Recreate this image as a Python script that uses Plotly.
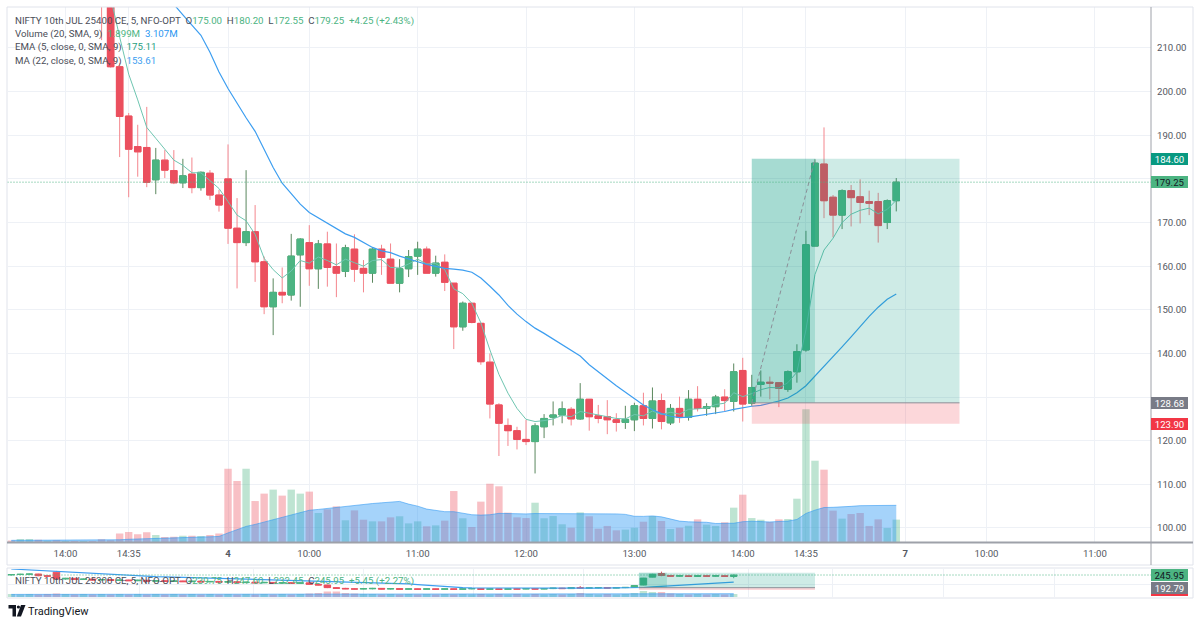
import plotly.graph_objects as go

# ---------------- data ----------------
# 5-minute bars, index 0 = 4 Jul 09:15 (negative = 3 Jul afternoon)
bar_index = list(range(-24, 75))

opens = [236, 234, 236, 237, 234, 235, 232, 233, 232, 233, 231, 224,
         205.7, 194.4, 187.4, 187.2, 179.8, 184.3, 181.9, 179.1, 181.1, 178.0, 181.3, 176.3,
         180.0, 168.7, 165.4, 167.9, 161.0, 150.7, 154.0, 153.4, 162.6, 165.4,
         159.4, 165.1, 159.9, 158.8, 163.9, 159.5, 158.4, 163.9, 161.6, 156.1,
         159.4, 162.3, 163.9, 158.4, 160.9, 156.1, 146.1, 151.5, 146.9, 138.0,
         128.2, 123.5, 122.3, 120.3, 119.8, 123.2, 125.4, 125.9, 127.2, 125.0,
         129.5, 125.7, 125.5, 124.8, 124.2, 124.8, 128.0, 125.1, 129.2, 124.1,
         127.4, 125.4, 129.5, 127.4, 127.8, 130.0, 129.0, 136.1, 128.6, 132.9,
         133.4, 133.3, 131.8, 135.8, 140.8, 164.6, 183.4, 175.8, 171.7, 177.3,
         175.9, 174.8, 174.8, 170.0, 175.00]
highs = [238, 237, 238, 238, 236, 236, 234, 234, 234, 234, 232, 225,
         206.6, 195.1, 192.4, 196.5, 187.1, 186.6, 186.6, 184.6, 184.9, 181.7, 182.0, 177.5,
         187.9, 175.6, 182.0, 174.0, 162.2, 157.2, 159.7, 167.4, 166.4, 169.4,
         166.0, 167.9, 165.2, 164.9, 167.3, 161.4, 164.1, 164.9, 165.2, 161.6,
         163.7, 165.6, 164.5, 162.4, 162.7, 156.1, 151.9, 151.5, 146.9, 140.0,
         128.6, 125.1, 123.2, 124.8, 124.0, 126.1, 129.0, 129.0, 127.7, 133.2,
         129.5, 128.2, 129.3, 126.3, 128.0, 128.7, 131.0, 132.2, 130.8, 128.4,
         130.1, 131.6, 132.5, 128.6, 130.5, 131.8, 137.7, 139.0, 135.1, 136.1,
         134.7, 133.3, 136.1, 142.1, 168.1, 184.5, 191.8, 176.3, 177.6, 178.6,
         179.9, 177.3, 176.8, 175.3, 180.20]
lows = [233, 233, 234, 233, 233, 231, 231, 231, 231, 230, 211.8, 205.5,
        185.0, 175.8, 180.5, 178.1, 176.5, 180.2, 178.8, 177.9, 176.7, 177.3, 175.2, 172.5,
        165.1, 154.9, 164.6, 156.4, 149.0, 144.2, 151.5, 152.1, 150.7, 155.5,
        154.8, 155.3, 152.9, 157.5, 156.4, 154.0, 156.2, 158.0, 156.1, 154.0,
        157.5, 158.0, 158.4, 157.6, 154.3, 141.0, 145.2, 146.9, 137.4, 125.1,
        116.5, 118.8, 118.0, 119.0, 112.5, 120.6, 123.5, 124.0, 123.5, 124.8,
        122.3, 124.0, 121.5, 122.1, 122.7, 122.2, 123.5, 122.8, 122.6, 123.6,
        124.1, 124.6, 126.7, 125.7, 126.1, 126.7, 126.7, 124.4, 128.0, 130.1,
        129.5, 127.7, 131.2, 133.3, 140.4, 164.6, 171.0, 166.6, 168.5, 169.1,
        169.8, 171.7, 165.4, 168.5, 172.55]
closes = [234, 236, 237, 234, 235, 232, 233, 232, 233, 231, 224, 205.7,
          194.3, 186.8, 186.2, 179.2, 184.3, 182.0, 179.1, 180.7, 178.0, 181.5, 176.3, 174.0,
          168.7, 165.4, 167.9, 161.0, 150.7, 154.0, 153.4, 162.3, 166.2, 159.4,
          165.1, 159.7, 158.4, 164.2, 159.3, 158.4, 163.9, 162.0, 156.1, 159.4,
          162.2, 163.9, 158.4, 160.7, 156.3, 146.1, 151.5, 147.1, 138.1, 128.4,
          124.0, 122.3, 120.3, 119.8, 123.4, 125.1, 125.9, 127.3, 125.0, 129.5,
          125.5, 125.1, 124.8, 124.2, 124.9, 128.0, 125.1, 129.1, 124.4, 127.4,
          125.4, 129.5, 127.4, 127.8, 130.0, 129.2, 135.8, 128.4, 132.2, 133.4,
          133.2, 132.0, 135.8, 140.4, 164.9, 183.6, 175.0, 171.7, 177.3, 175.7,
          174.6, 174.4, 169.3, 175.0, 179.25]
volumes = [0.12, 0.25, 0.25, 0.20, 0.11, 0.14, 0.08, 0.08, 0.08, 0.08, 0.23, 0.14,
           0.71, 0.85, 0.65, 0.82, 0.59, 0.42, 0.45, 0.54, 0.54, 0.51, 0.59, 0.71,
           6.21, 5.17, 6.21, 3.47, 4.10, 4.44, 3.93, 4.44, 4.10, 4.27,
           2.46, 2.77, 3.02, 1.84, 2.68, 1.89, 1.75, 1.75, 2.09, 2.18,
           1.58, 1.75, 1.33, 1.41, 1.81, 4.32, 2.01, 1.27, 3.42, 4.94,
           4.72, 2.49, 2.09, 2.03, 3.33, 2.01, 2.20, 1.50, 1.21, 2.51,
           2.18, 1.13, 1.36, 0.99, 1.05, 1.21, 1.72, 2.20, 1.78, 1.10,
           1.21, 1.38, 1.92, 1.47, 1.36, 1.67, 2.91, 4.01, 2.03, 1.89,
           1.69, 1.92, 1.95, 3.67, 11.24, 6.89, 6.13, 2.66, 1.98, 2.37,
           2.46, 1.36, 1.92, 1.19, 1.899]
vol_ma = [0.14, 0.14, 0.15, 0.15, 0.15, 0.15, 0.15, 0.15, 0.15, 0.15, 0.16, 0.16,
          0.19, 0.23, 0.26, 0.30, 0.32, 0.34, 0.36, 0.38, 0.40, 0.42, 0.44, 0.47,
          0.77, 1.02, 1.32, 1.49, 1.69, 1.90, 2.09, 2.30, 2.49, 2.69,
          2.76, 2.85, 2.95, 3.02, 3.12, 3.20, 3.26, 3.32, 3.39, 3.44,
          3.21, 3.04, 2.79, 2.69, 2.57, 2.57, 2.47, 2.31, 2.28, 2.31,
          2.43, 2.41, 2.37, 2.38, 2.41, 2.41, 2.44, 2.42, 2.38, 2.40,
          2.43, 2.40, 2.40, 2.38, 2.34, 2.18, 2.17, 2.21, 2.13, 1.94,
          1.77, 1.71, 1.70, 1.67, 1.57, 1.56, 1.59, 1.72, 1.76, 1.73,
          1.70, 1.74, 1.77, 1.91, 2.42, 2.70, 2.92, 2.94, 2.95, 3.02,
          3.08, 3.08, 3.08, 3.07, 3.107]
ema5 = [236.0, 235.6, 235.8, 235.2, 235.1, 234.1, 233.7, 233.1, 233.1, 232.4, 229.6, 221.6,
        212.5, 204.0, 198.1, 191.8, 189.3, 186.9, 184.3, 183.1, 181.4, 181.4, 179.7, 177.8,
        174.8, 171.7, 170.4, 167.3, 161.8, 159.2, 157.3, 158.9, 161.3, 160.7,
        162.1, 161.3, 160.3, 161.6, 160.8, 160.0, 161.3, 161.5, 159.7, 159.6,
        160.5, 161.6, 160.5, 160.6, 159.2, 154.8, 153.7, 151.5, 147.0, 140.8,
        135.2, 130.9, 127.4, 124.9, 124.4, 124.6, 125.0, 125.8, 125.5, 126.7,
        126.3, 125.9, 125.5, 125.1, 125.0, 126.0, 125.7, 126.8, 126.0, 126.5,
        126.1, 127.2, 127.3, 127.5, 128.3, 128.6, 131.0, 130.1, 130.8, 131.7,
        132.2, 132.1, 133.3, 135.7, 145.4, 158.1, 163.7, 166.4, 170.0, 171.9,
        172.8, 173.3, 172.0, 173.0, 175.11]
ma22 = [246.0, 245.0, 244.0, 243.0, 242.0, 240.5, 239.0, 237.5, 236.0, 234.5, 233.0, 231.5,
        229.5, 227.5, 225.5, 223.5, 222.0, 221.0, 220.0, 217.6, 215.3, 212.9, 209.0, 204.5,
        200.7, 197.3, 194.0, 190.9, 186.8, 182.6, 179.0, 176.5, 174.2, 172.3,
        171.1, 169.8, 168.5, 167.4, 166.6, 165.4, 164.3, 163.5, 163.1, 162.3,
        161.6, 161.0, 160.4, 159.9, 159.5, 159.3, 159.1, 158.6, 157.3, 155.4,
        153.4, 151.0, 149.0, 147.3, 145.8, 144.6, 143.3, 142.0, 140.7, 139.4,
        137.4, 135.7, 134.2, 132.6, 131.2, 129.7, 128.2, 127.1, 126.2, 125.6,
        125.3, 125.4, 125.7, 126.1, 126.4, 126.7, 127.2, 127.6, 127.9, 128.1,
        128.6, 129.1, 129.8, 131.0, 132.6, 134.8, 136.9, 139.2, 141.5, 143.8,
        146.2, 148.5, 150.6, 152.4, 153.61]

tick_index = [-18, -11, 0, 9, 21, 33, 45, 57, 64, 75, 84, 96]
tick_labels = ['14:00', '14:35', '<b>4</b>', '10:00', '11:00', '12:00', '13:00',
               '14:00', '14:35', '<b>7</b>', '10:00', '11:00']
price_ticks = [100, 110, 120, 130, 140, 150, 160, 170, 180, 190, 200, 210]
# tick labels hidden behind the price-scale labels in the reference
hidden_ticks = [130, 180]

# long position drawing
pos_start, pos_hit, pos_end = 58, 65, 81
entry_price, target_price, stop_price = 128.68, 184.60, 123.90

# ---------------- lower mini chart (NIFTY 10th JUL 25300 CE) ----------------
mini_index = list(range(-24, 57))
mini_open = [246, 248, 249, 250, 243, 258, 229, 232, 227, 229, 225, 227,
             223, 225, 222, 224, 220, 222, 219, 221, 218, 220, 217, 219,
             216, 218, 214, 216, 213, 215, 212, 214, 211, 213,
             207, 204, 193, 190, 188, 187, 188, 190, 187, 189,
             186, 188, 186, 188, 186, 188, 186, 188, 189, 186,
             188, 186, 188, 187, 189, 187, 189, 191, 189, 193,
             191, 192, 193, 191, 193, 194, 204, 237, 252, 244,
             241, 243, 240, 243, 241, 243, 239.75]
mini_high = [250, 251, 252, 251, 246, 263, 234, 233, 231, 230, 229, 228,
             227, 226, 226, 225, 224, 223, 223, 222, 222, 221, 221, 220,
             220, 219, 218, 217, 217, 216, 216, 215, 215, 216,
             209, 205, 195, 192, 190, 190, 192, 191, 190, 190,
             189, 189, 189, 189, 189, 189, 189, 190, 190, 189,
             189, 189, 190, 190, 190, 190, 192, 192, 194, 200,
             193, 194, 194, 194, 195, 204, 234, 251, 260, 246,
             245, 244, 244, 245, 244, 244, 247.60]
mini_low = [244, 245, 246, 241, 239, 226, 226, 226, 225, 224, 223, 222,
            222, 221, 220, 219, 219, 218, 217, 217, 216, 216, 215, 215,
            214, 213, 213, 212, 212, 211, 211, 210, 210, 205,
            203, 191, 189, 187, 186, 186, 186, 186, 185, 185,
            185, 185, 185, 185, 185, 184, 185, 186, 185, 185,
            185, 185, 186, 186, 186, 186, 187, 188, 188, 189,
            189, 190, 190, 190, 191, 193, 203, 236, 241, 240,
            239, 239, 239, 240, 239, 240, 232.45]
mini_close = [248, 249, 250, 243, 241, 229, 232, 227, 229, 225, 227, 223,
              225, 222, 224, 220, 222, 219, 221, 218, 220, 217, 219, 216,
              218, 214, 216, 213, 215, 212, 214, 211, 213, 207,
              204, 193, 190, 188, 187, 189, 190, 187, 189, 186,
              188, 186, 188, 186, 188, 186, 188, 189, 186, 188,
              186, 188, 187, 189, 187, 189, 191, 189, 193, 191,
              192, 193, 191, 193, 194, 202, 233, 249, 244, 241,
              243, 240, 243, 241, 243, 240.50, 245.95]
mini_ma = [271.0, 268.9, 266.8, 264.7, 262.6, 260.5, 258.4, 256.3, 254.2, 252.1, 250.0, 247.9,
           245.8, 243.7, 241.5, 240.5, 239.5, 238.5, 237.5, 236.5, 235.5, 234.5, 233.5, 232.5,
           231.5, 230.5, 229.5, 228.5, 227.5, 226.5, 225.5, 224.5, 223.5, 222.5,
           221.4, 220.3, 219.2, 218.1, 217.0, 215.9, 214.8, 213.7, 212.9, 212.1,
           209.0, 206.0, 203.0, 200.0, 197.5, 195.0, 193.0, 191.8, 191.5, 191.3,
           191.2, 191.1, 191.0, 191.0, 191.0, 191.0, 191.0, 191.0, 191.0, 191.0,
           191.0, 191.0, 191.0, 191.0, 191.0, 191.5, 193.5, 196.0, 198.5, 201.0,
           203.5, 206.0, 208.5, 211.0, 213.0, 215.0, 216.5]
mini_vol = [3, 2.5, 3, 2.5, 3, 3.5, 3, 2.5, 3, 2.5, 3, 2.5,
            3, 2.5, 3, 2.5, 3, 2.5, 3, 2.5, 3, 2.5, 3, 2.5,
            3, 2.5, 3, 2.5, 3, 2.5, 3, 2.5, 3, 3.5,
            4, 5.5, 5.5, 4, 3.5, 3, 3, 2.5, 3, 2.5,
            3, 2.5, 3, 2.5, 3, 2.5, 3, 2.5, 3, 2.5,
            3, 2.5, 3, 2.5, 3, 2.5, 3, 2.5, 3, 4,
            3, 2.5, 3, 2.5, 3, 4, 6, 5, 5, 3.5,
            3, 2.5, 3, 2.5, 3, 2.5, 3]
mini_vol_ma = [2.6, 2.6, 2.6, 2.6, 2.6, 2.6, 2.6, 2.6, 2.6, 2.6, 2.6, 2.6,
               2.6, 2.6, 2.6, 2.6, 2.6, 2.6, 2.6, 2.6, 2.6, 2.6, 2.6, 2.6,
               2.6, 2.6, 2.6, 2.6, 2.6, 2.6, 2.6, 2.6, 2.7, 2.7,
               2.8, 2.9, 3.0, 3.0, 3.0, 3.0, 3.0, 2.9, 2.9, 2.9,
               2.8, 2.8, 2.8, 2.7, 2.7, 2.7, 2.7, 2.7, 2.7, 2.7,
               2.7, 2.7, 2.7, 2.7, 2.7, 2.7, 2.7, 2.7, 2.7, 2.8,
               2.8, 2.8, 2.8, 2.8, 2.8, 2.9, 3.1, 3.2, 3.3, 3.3,
               3.3, 3.3, 3.3, 3.3, 3.3, 3.3, 3.3]
mini_grid_index = [-9.75, 2.77, 14.95, 27.13, 39.31, 57.59, 66.89, 79.18, 91.47]
mini_pos_start, mini_pos_hit, mini_pos_end = 45.5, 48.6, 65.0
mini_entry, mini_target, mini_stop = 192.79, 255.6, 182.9

# ---------------- styling ----------------
W, H = 1200, 625
def fx(p):
    return p / W
def fy(p):
    return 1 - p / H

UP, DOWN = '#4cb482', '#eb4f5e'
UP_WICK, DOWN_WICK = '#5a875d', '#f4868d'
GRID = '#eef1f6'
AXIS_TXT = '#55585f'
LEG_TXT = '#4a4d57'
FONT = 'Roboto, sans-serif'
X_RANGE = [-24.42, 102.21]

fig = go.Figure()

# main candles: wick layer, then body layer on top
fig.add_trace(go.Candlestick(
    x=bar_index, open=opens, high=highs, low=lows, close=closes,
    increasing=dict(line=dict(color=UP_WICK, width=1), fillcolor=UP),
    decreasing=dict(line=dict(color=DOWN_WICK, width=1), fillcolor=DOWN),
    whiskerwidth=0, hoverinfo='skip', showlegend=False, xaxis='x', yaxis='y'))
body_hi = [max(o, c) for o, c in zip(opens, closes)]
body_lo = [min(o, c) for o, c in zip(opens, closes)]
fig.add_trace(go.Candlestick(
    x=bar_index, open=opens, high=body_hi, low=body_lo, close=closes,
    increasing=dict(line=dict(color=UP, width=1), fillcolor=UP),
    decreasing=dict(line=dict(color=DOWN, width=1), fillcolor=DOWN),
    whiskerwidth=0, hoverinfo='skip', showlegend=False, xaxis='x', yaxis='y'))
fig.add_trace(go.Scatter(x=bar_index, y=ema5, mode='lines',
                         line=dict(color='#6ec5b0', width=1), hoverinfo='skip',
                         showlegend=False, xaxis='x', yaxis='y'))
fig.add_trace(go.Scatter(x=bar_index, y=ma22, mode='lines',
                         line=dict(color='#3d9ef0', width=1.2), hoverinfo='skip',
                         showlegend=False, xaxis='x', yaxis='y'))

# volume (overlay axis)
vol_colors = ['rgba(76,180,130,0.36)' if c > o else 'rgba(235,79,94,0.36)'
              for o, c in zip(opens, closes)]
fig.add_trace(go.Bar(x=bar_index, y=volumes, width=0.82, marker=dict(color=vol_colors, line=dict(width=0)),
                     hoverinfo='skip', showlegend=False, xaxis='x', yaxis='y2'))
fig.add_trace(go.Scatter(x=bar_index, y=vol_ma, mode='lines', fill='tozeroy',
                         fillcolor='rgba(41,150,243,0.42)', line=dict(color='rgba(41,150,243,0.55)', width=1),
                         hoverinfo='skip', showlegend=False, xaxis='x', yaxis='y2'))

# mini chart
mini_vol_colors = ['rgba(76,180,130,0.36)' if c > o else 'rgba(235,79,94,0.36)'
                   for o, c in zip(mini_open, mini_close)]
fig.add_trace(go.Bar(x=mini_index, y=mini_vol, width=0.82, marker=dict(color=mini_vol_colors, line=dict(width=0)),
                     hoverinfo='skip', showlegend=False, xaxis='x2', yaxis='y4'))
fig.add_trace(go.Scatter(x=mini_index, y=mini_vol_ma, mode='lines', fill='tozeroy',
                         fillcolor='rgba(41,150,243,0.42)', line=dict(color='rgba(41,150,243,0.55)', width=1),
                         hoverinfo='skip', showlegend=False, xaxis='x2', yaxis='y4'))
fig.add_trace(go.Candlestick(
    x=mini_index, open=mini_open, high=mini_high, low=mini_low, close=mini_close,
    increasing=dict(line=dict(color=UP, width=1), fillcolor=UP),
    decreasing=dict(line=dict(color=DOWN, width=1), fillcolor=DOWN),
    whiskerwidth=0, hoverinfo='skip', showlegend=False, xaxis='x2', yaxis='y3'))
fig.add_trace(go.Scatter(x=mini_index, y=mini_ma, mode='lines',
                         line=dict(color='#3d9ef0', width=1.2), hoverinfo='skip',
                         showlegend=False, xaxis='x2', yaxis='y3'))

# ---------------- shapes ----------------
DOT = '1px,2px'
shapes = []
# position tool (main)
shapes += [
    dict(type='rect', xref='x', yref='y', x0=pos_start, x1=pos_end, y0=entry_price, y1=target_price,
         fillcolor='rgba(8,153,129,0.2)', line=dict(width=0), layer='above'),
    dict(type='rect', xref='x', yref='y', x0=pos_start, x1=pos_hit, y0=entry_price, y1=target_price,
         fillcolor='rgba(8,153,129,0.2)', line=dict(width=0), layer='above'),
    dict(type='rect', xref='x', yref='y', x0=pos_start, x1=pos_end, y0=stop_price, y1=entry_price,
         fillcolor='rgba(242,54,69,0.2)', line=dict(width=0), layer='above'),
    dict(type='line', xref='x', yref='y', x0=pos_start, x1=pos_end, y0=entry_price, y1=entry_price,
         line=dict(color='#8b8e97', width=1), layer='above'),
    dict(type='line', xref='x', yref='y', x0=pos_start, x1=pos_hit, y0=entry_price, y1=target_price,
         line=dict(color='#8b8e97', width=1, dash='4px,3px'), layer='above'),
]
# last price dotted lines
shapes.append(dict(type='line', xref='paper', yref='y', x0=fx(7.5), x1=fx(1151),
                   y0=closes[-1], y1=closes[-1], line=dict(color=UP, width=1, dash=DOT), layer='above'))
shapes.append(dict(type='line', xref='paper', yref='y3', x0=fx(7.5), x1=fx(1151),
                   y0=mini_close[-1], y1=mini_close[-1], line=dict(color=UP, width=1, dash=DOT), layer='above'))
# mini position tool
shapes += [
    dict(type='rect', xref='x2', yref='y3', x0=mini_pos_start, x1=mini_pos_end, y0=mini_entry, y1=mini_target,
         fillcolor='rgba(8,153,129,0.2)', line=dict(width=0), layer='above'),
    dict(type='rect', xref='x2', yref='y3', x0=mini_pos_start, x1=mini_pos_hit, y0=mini_entry, y1=mini_target,
         fillcolor='rgba(8,153,129,0.2)', line=dict(width=0), layer='above'),
    dict(type='rect', xref='x2', yref='y3', x0=mini_pos_start, x1=mini_pos_end, y0=mini_stop, y1=mini_entry,
         fillcolor='rgba(242,54,69,0.2)', line=dict(width=0), layer='above'),
    dict(type='line', xref='x2', yref='y3', x0=mini_pos_start, x1=mini_pos_end, y0=mini_entry, y1=mini_entry,
         line=dict(color='#8b8e97', width=1), layer='above'),
]
# frames / separators
FRAME = '#e0e3eb'
SEP = '#9ea1a9'
shapes += [
    dict(type='rect', xref='paper', yref='paper', x0=fx(7), x1=fx(1193), y0=fy(565), y1=fy(7),
         line=dict(color=FRAME, width=1), layer='above'),
    dict(type='rect', xref='paper', yref='paper', x0=fx(7), x1=fx(1193), y0=fy(598), y1=fy(568),
         line=dict(color=FRAME, width=1), layer='above'),
    dict(type='line', xref='paper', yref='paper', x0=fx(7), x1=fx(1193), y0=fy(542.5), y1=fy(542.5),
         line=dict(color=SEP, width=2), layer='above'),
    dict(type='line', xref='paper', yref='paper', x0=fx(1151), x1=fx(1151), y0=fy(565), y1=fy(7),
         line=dict(color=SEP, width=1), layer='above'),
    dict(type='rect', xref='paper', yref='paper', x0=fx(1151), x1=fx(1188), y0=fy(596), y1=fy(593.5),
         fillcolor='#f23645', line=dict(width=0), layer='above'),
]
# TradingView logo mark
LOGO = '#131722'
shapes += [
    dict(type='rect', xref='paper', yref='paper', x0=fx(8.5), x1=fx(16), y0=fy(608.5), y1=fy(605),
         fillcolor=LOGO, line=dict(width=0), layer='above'),
    dict(type='rect', xref='paper', yref='paper', x0=fx(12.5), x1=fx(16), y0=fy(616.5), y1=fy(605),
         fillcolor=LOGO, line=dict(width=0), layer='above'),
    dict(type='circle', xref='paper', yref='paper', x0=fx(16.8), x1=fx(20), y0=fy(608.6), y1=fy(605.4),
         fillcolor=LOGO, line=dict(width=0), layer='above'),
    dict(type='path', xref='paper', yref='paper',
         path=f'M {fx(21)},{fy(605)} L {fx(25.5)},{fy(605)} L {fx(21)},{fy(616.5)} L {fx(16.8)},{fy(616.5)} Z',
         fillcolor=LOGO, line=dict(width=0), layer='above'),
]

# ---------------- annotations ----------------
def col(s, c):
    return f'<span style="color:{c}">{s}</span>'
sp = '\u00a0\u00a0'
UPT = '#4cb482'
chg = closes[-1] - closes[-2]
line1 = ('NIFTY 10th JUL 25400 CE, 5, NFO-OPT' + sp + 'O' + col(f'{opens[-1]:.2f}', UPT) + sp +
         'H' + col(f'{highs[-1]:.2f}', UPT) + sp + 'L' + col(f'{lows[-1]:.2f}', UPT) + sp +
         'C' + col(f'{closes[-1]:.2f}', UPT) + sp +
         col(f'+{chg:.2f} (+{chg / closes[-2] * 100:.2f}%)', UPT))
line2 = 'Volume (20, SMA, 9)' + sp + col(f'{volumes[-1]:.3f}M', UPT) + sp + col(f'{vol_ma[-1]:.3f}M', '#2b96f0')
line3 = 'EMA (5, close, 0, SMA, 9)' + sp + col(f'{ema5[-1]:.2f}', '#1f9e80')
line4 = 'MA (22, close, 0, SMA, 9)' + sp + col(f'{ma22[-1]:.2f}', '#3d9ef0')
mchg = mini_close[-1] - mini_close[-2]
mline = ('NIFTY 10th JUL 25300 CE, 5, NFO-OPT' + sp + 'O' + col(f'{mini_open[-1]:.2f}', UPT) + sp +
         'H' + col(f'{mini_high[-1]:.2f}', UPT) + sp + 'L' + col(f'{mini_low[-1]:.2f}', UPT) + sp +
         'C' + col(f'{mini_close[-1]:.2f}', UPT) + sp +
         col(f'+{mchg:.2f} (+{mchg / mini_close[-2] * 100:.2f}%)', UPT))

annotations = []
for txt, ypix in [(line1, 20.5), (line2, 34), (line3, 47.5), (line4, 61), (mline, 581)]:
    annotations.append(dict(text=txt, xref='paper', yref='paper', x=fx(13), y=fy(ypix),
                            xanchor='left', yanchor='middle', showarrow=False,
                            font=dict(family=FONT, size=9.7, color=LEG_TXT)))

def price_label(val, yref, bg, fg):
    return dict(text=f'{val:.2f}', xref='paper', yref=yref, x=fx(1151), y=val,
                xanchor='left', yanchor='middle', showarrow=False, align='center',
                width=33, height=8, borderpad=2, borderwidth=0, bgcolor=bg,
                font=dict(family=FONT, size=9.6, color=fg))

annotations += [
    price_label(target_price, 'y', '#089981', '#ffffff'),
    price_label(closes[-1], 'y', UP, '#131722'),
    price_label(entry_price, 'y', '#787b86', '#ffffff'),
    price_label(stop_price, 'y', '#f23645', '#ffffff'),
    price_label(mini_close[-1], 'y3', UP, '#131722'),
    price_label(mini_entry, 'y3', '#787b86', '#ffffff'),
]
annotations.append(dict(text='TradingView', xref='paper', yref='paper', x=fx(26), y=fy(611),
                        xanchor='left', yanchor='middle', showarrow=False,
                        font=dict(family=FONT, size=11, color=LOGO)))

# ---------------- layout ----------------
fig.update_layout(
    width=W, height=H, margin=dict(l=0, r=0, t=0, b=0), template='none',
    paper_bgcolor='white', plot_bgcolor='white', showlegend=False, hovermode=False,
    barmode='overlay', boxgap=0.28, boxgroupgap=0,
    font=dict(family=FONT, size=10, color=AXIS_TXT),
    xaxis=dict(domain=[fx(7.5), fx(1151)], range=X_RANGE, anchor='y',
               tickmode='array', tickvals=tick_index, ticktext=tick_labels,
               showgrid=True, gridcolor=GRID, gridwidth=1, zeroline=False, showline=False,
               ticks='', ticklabelstandoff=4, tickfont=dict(family=FONT, size=9.6, color=AXIS_TXT),
               rangeslider=dict(visible=False), fixedrange=True),
    yaxis=dict(domain=[fy(542), fy(7)], range=[96.79, 219.39], anchor='x', side='right',
               tickmode='array', tickvals=price_ticks,
               ticktext=['' if v in hidden_ticks else f'{v:.2f}' for v in price_ticks],
               showgrid=True, gridcolor=GRID, gridwidth=1, zeroline=False, showline=False,
               ticks='', ticklabelstandoff=5, tickfont=dict(family=FONT, size=9.6, color=AXIS_TXT),
               fixedrange=True),
    yaxis2=dict(overlaying='y', anchor='x', range=[0, 45.34], visible=False, fixedrange=True),
    xaxis2=dict(domain=[fx(7.5), fx(1151)], range=X_RANGE, anchor='y3',
                tickmode='array', tickvals=mini_grid_index, showticklabels=False,
                showgrid=True, gridcolor=GRID, zeroline=False, showline=False, ticks='',
                rangeslider=dict(visible=False), fixedrange=True),
    yaxis3=dict(domain=[fy(597), fy(569)], range=[153.8, 271.1], anchor='x2', side='right',
                tickmode='array', tickvals=[208.2], showticklabels=False,
                showgrid=True, gridcolor=GRID, zeroline=False, showline=False, ticks='',
                fixedrange=True),
    yaxis4=dict(overlaying='y3', anchor='x2', range=[0, 28], visible=False, fixedrange=True),
    shapes=shapes, annotations=annotations,
)

fig.write_html("out.html", config={'displayModeBar': False})
